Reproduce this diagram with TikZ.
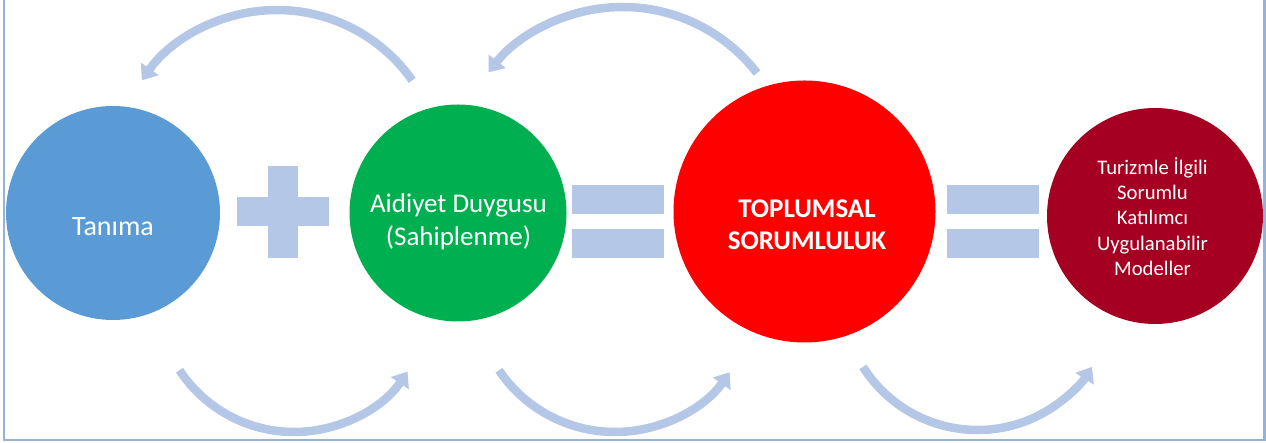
\documentclass[tikz,border=0pt]{standalone}
\usepackage{fontspec}
\setmainfont{Carlito}
\usetikzlibrary{arrows.meta}

\definecolor{cycleblue}{RGB}{180,199,231}
\definecolor{framecol}{RGB}{149,179,215}
\definecolor{ballblue}{RGB}{91,155,213}
\definecolor{ballgreen}{RGB}{0,176,80}
\definecolor{ballred}{RGB}{255,0,0}
\definecolor{balldark}{RGB}{165,0,33}

\tikzset{
  ball/.style={circle, draw=none, inner sep=0pt, fill=#1},
  balltext/.style={text=white, inner sep=0pt, anchor=base},
  cyclearrow/.style={draw=cycleblue, line width=8.5pt,
    -{Triangle[length=14pt,width=21pt]}},
  signbar/.style={fill=cycleblue}
}

\begin{document}
\begin{tikzpicture}[x=1pt,y=1pt]
\useasboundingbox (0,0) rectangle (1266,443);

% open frame (top edge lies above the picture)
\draw[framecol, line width=2.5pt] (3.8,460) -- (3.8,3) -- (1264.3,3) -- (1264.3,460);

% circles
\node[ball=ballblue,  minimum size=214pt] (tanima)  at (113,230) {};
\node[ball=ballgreen, minimum size=217pt] (aidiyet) at (458,230) {};
\node[ball=ballred,   minimum size=262pt] (toplum)  at (804.5,231.5) {};
\node[ball=balldark,  minimum size=216pt] (model)   at (1155,227) {};

% texts
\node[balltext] (tanimaT) at (113,207) {\fontsize{28}{34}\selectfont Tanıma};
\node[balltext] (aidiyetT) at (458.5,230.3)
  {\fontsize{27}{33}\selectfont\begin{tabular}[t]{@{}c@{}}Aidiyet Duygusu\\(Sahiplenme)\end{tabular}};
\node[balltext] (toplumT) at (807,225.7)
  {\fontsize{27}{32}\selectfont\bfseries\begin{tabular}[t]{@{}c@{}}TOPLUMSAL\\SORUMLULUK\end{tabular}};
\node[balltext] (modelT) at (1152.5,268.7)
  {\fontsize{20.7}{25.3}\selectfont\begin{tabular}[t]{@{}c@{}}Turizmle İlgili\\Sorumlu\\Katılımcı\\Uygulanabilir\\Modeller\end{tabular}};

% plus sign
\fill[signbar] (237,217) rectangle (329,246);
\fill[signbar] (268,185) rectangle (298,277);

% equals signs
\fill[signbar] (572,229) rectangle (664,258);
\fill[signbar] (572,185) rectangle (664,214);
\fill[signbar] (947,229) rectangle (1039,258);
\fill[signbar] (947,185) rectangle (1039,214);

% arc centres
\coordinate (cT1) at (277,268);
\coordinate (cT2) at (622.5,266);
\coordinate (cB1) at (294,148);
\coordinate (cB2) at (615,151);
\coordinate (cB3) at (977.5,148.5);

% arc start points
\path (cT1) ++(35:165)   coordinate (sT1);
\path (cT2) ++(37.7:170) coordinate (sT2);
\path (cB1) ++(213.3:137) coordinate (sB1);
\path (cB2) ++(214:140)  coordinate (sB2);
\path (cB3) ++(212.3:135.5) coordinate (sB3);

% backward arrows above
\draw[cyclearrow] (sT1) arc[start angle=35, end angle=145, radius=165];
\draw[cyclearrow] (sT2) arc[start angle=37.7, end angle=142, radius=170];

% forward arrows below
\draw[cyclearrow] (sB1) arc[start angle=213.3, end angle=326, radius=137];
\draw[cyclearrow] (sB2) arc[start angle=214, end angle=325, radius=140];
\draw[cyclearrow] (sB3) arc[start angle=212.3, end angle=327.7, radius=135.5];
\end{tikzpicture}
\end{document}
